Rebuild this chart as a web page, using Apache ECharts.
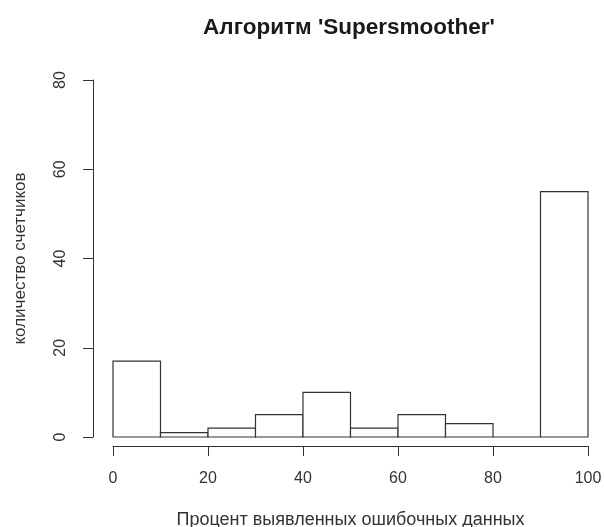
<!DOCTYPE html>
<html>
<head>
<meta charset="utf-8">
<script src="https://cdn.jsdelivr.net/npm/echarts@6/dist/echarts.min.js"></script>
<style>
  html, body { margin: 0; padding: 0; background: #fff; }
  #chart { width: 604px; height: 527px; }
</style>
</head>
<body>
<div id="chart"></div>
<script>
// Histogram bins (percent of detected erroneous data) and meter counts
const binStarts = [0, 10, 20, 30, 40, 50, 60, 70, 80, 90];
const binEnds   = [10, 20, 30, 40, 50, 60, 70, 80, 90, 100];
const counts    = [17, 1, 2, 5, 10, 2, 5, 3, 0, 55];
const xTicks = [0, 20, 40, 60, 80, 100];
const yTicks = [0, 20, 40, 60, 80];

const titleText = "Алгоритм 'Supersmoother'";
const xTitle = 'Процент выявленных ошибочных данных';
const yTitle = 'количество счетчиков';

const FONT = '"Liberation Sans", Arial, sans-serif';
const chart = echarts.init(document.getElementById('chart'), null, { renderer: 'canvas' });

const binData = binStarts.map((s, i) => [s, binEnds[i], counts[i]]);

chart.setOption({
  animation: false,
  backgroundColor: '#ffffff',
  title: {
    text: titleText,
    left: 344, top: 11, textAlign: 'center',
    textStyle: { fontFamily: FONT, fontWeight: 'bold', fontSize: 22.5, color: '#1a1a1a' }
  },
  grid: {
    left: 113, right: 16, top: 80, bottom: 90,
    containLabel: false, outerBoundsMode: 'none'
  },
  xAxis: {
    type: 'value', min: 0, max: 100, interval: 20,
    offset: 9,
    splitLine: { show: false },
    axisLine: { show: true, onZero: false, lineStyle: { color: '#333', width: 1 } },
    axisTick: { show: true, length: 10, lineStyle: { color: '#333' } },
    axisLabel: {
      margin: 25, fontFamily: FONT, fontSize: 16, color: '#333',
      formatter: v => xTicks.includes(v) ? String(v) : ''
    },
    name: xTitle, nameLocation: 'middle', nameGap: 65,
    nameTextStyle: { fontFamily: FONT, fontSize: 18, color: '#333' }
  },
  yAxis: {
    type: 'value', min: 0, max: 80, interval: 20,
    offset: 20,
    splitLine: { show: false },
    axisLine: { show: true, onZero: false, lineStyle: { color: '#333', width: 1 } },
    axisTick: { show: true, length: 10, lineStyle: { color: '#333' } },
    axisLabel: {
      margin: 24, rotate: 90, fontFamily: FONT, fontSize: 16, color: '#333',
      formatter: v => yTicks.includes(v) ? String(v) : ''
    },
    name: yTitle, nameLocation: 'middle', nameGap: 64, nameRotate: 90,
    nameTextStyle: { fontFamily: FONT, fontSize: 17, color: '#333' }
  },
  series: [{
    type: 'custom',
    data: binData,
    encode: { x: [0, 1], y: 2 },
    renderItem: function (params, api) {
      const p0 = api.coord([api.value(0), 0]);
      const p1 = api.coord([api.value(1), api.value(2)]);
      return {
        type: 'rect',
        shape: { x: p0[0], y: p1[1], width: p1[0] - p0[0], height: p0[1] - p1[1] },
        style: { fill: '#ffffff', stroke: '#333', lineWidth: 1.2 }
      };
    }
  }]
});
</script>
</body>
</html>
